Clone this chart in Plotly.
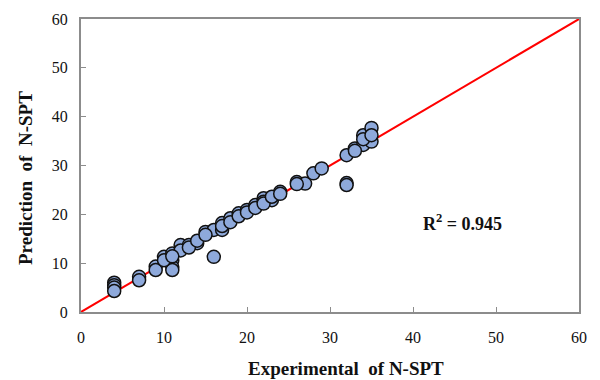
import plotly.graph_objects as go

experimental = [4, 4, 4, 4, 7, 7, 9, 9, 10, 11, 11, 11, 11, 12, 13, 14, 15, 16, 16, 17, 17,
                18, 19, 20, 21, 22, 22, 23, 24, 26, 27, 28, 29, 32, 32, 32, 33, 34, 34, 35, 35,
                12, 13, 14, 15, 17, 18, 19, 20, 21, 22, 23, 24, 26, 10, 11, 33, 34, 35]
predicted = [6.0, 5.5, 5.0, 4.3, 7.2, 6.5, 9.3, 8.6, 11.3, 12.0, 10.6, 9.2, 8.6, 13.7, 13.7, 14.1,
             16.4, 16.8, 11.3, 18.2, 16.8, 19.2, 20.2, 20.9, 21.9, 23.3, 22.6, 22.9, 24.6, 26.6,
             26.3, 28.4, 29.4, 32.1, 26.4, 26.0, 33.5, 36.2, 34.2, 37.7, 34.9,
             12.6, 13.2, 14.6, 15.8, 17.6, 18.4, 19.6, 20.4, 21.3, 22.2, 23.6, 24.2, 26.2,
             10.6, 11.4, 33.0, 35.4, 36.2]
line_x = [0, 60]
line_y = [0, 60]
x_ticks = [0, 10, 20, 30, 40, 50, 60]
y_ticks = [0, 10, 20, 30, 40, 50, 60]

fig = go.Figure()
fig.add_trace(go.Scatter(x=line_x, y=line_y, mode="lines",
                         line=dict(color="#FF0000", width=2), showlegend=False))
fig.add_trace(go.Scatter(x=experimental, y=predicted, mode="markers",
                         marker=dict(size=13, color="#8EA9DB",
                                     line=dict(color="#111111", width=1.5)),
                         showlegend=False))

font_serif = "Liberation Serif, Times New Roman, serif"
axis_common = dict(range=[0, 60], showgrid=False, zeroline=False, showline=True,
                   linecolor="#8C8C8C", linewidth=2, mirror=True, ticks="inside",
                   ticklen=5, tickcolor="#8C8C8C", tickwidth=1,
                   tickfont=dict(family=font_serif, size=16, color="#111111"))
fig.update_xaxes(tickvals=x_ticks, ticklabelstandoff=10, **axis_common)
fig.update_yaxes(tickvals=y_ticks, ticklabelstandoff=8, **axis_common)

fig.update_layout(
    width=600, height=380,
    margin=dict(l=81, r=21, t=19, b=68),
    paper_bgcolor="white", plot_bgcolor="white",
    annotations=[
        dict(text="<b>R<sup>2</sup> = 0.945</b>", x=46, y=18.4, xref="x", yref="y",
             showarrow=False, font=dict(family=font_serif, size=18, color="#111111")),
        dict(text="<b>Experimental  of N-SPT</b>", x=(346 - 81) / 498, y=(312 - 368) / 293,
             xref="paper", yref="paper", showarrow=False, yanchor="middle",
             font=dict(family=font_serif, size=19, color="#111111")),
        dict(text="<b>Prediction  of  N-SPT</b>", x=(25 - 81) / 498, y=(312 - 178) / 293,
             xref="paper", yref="paper", showarrow=False, textangle=-90,
             xanchor="center", yanchor="middle",
             font=dict(family=font_serif, size=19, color="#111111")),
    ],
)

fig.write_html("out.html")
